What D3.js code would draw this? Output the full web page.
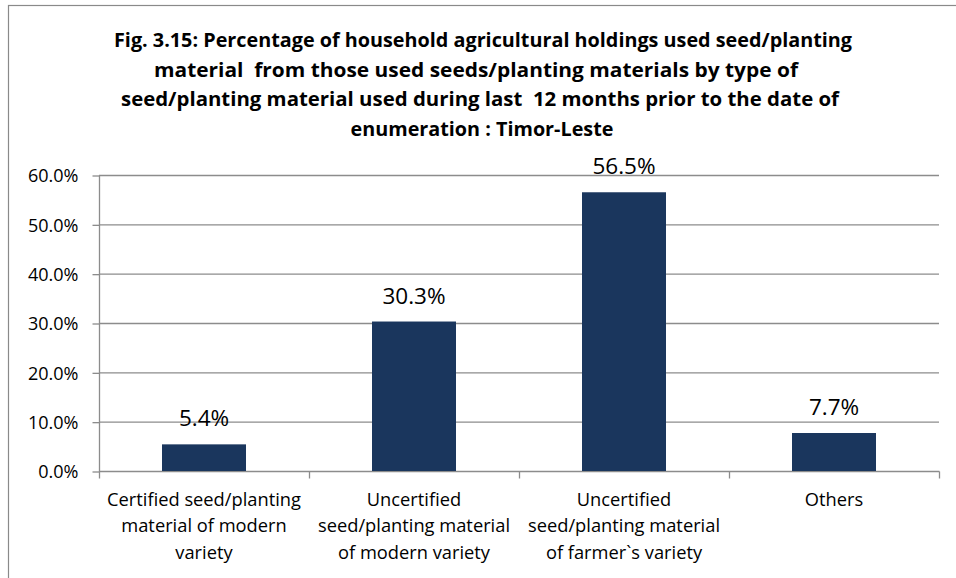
<!DOCTYPE html>
<html>
<head>
<meta charset="utf-8">
<script src="https://cdn.jsdelivr.net/npm/d3@7/dist/d3.min.js"></script>
<style>
  html, body { margin: 0; padding: 0; background: #fff; }
  svg text { font-family: "Open Sans", "Noto Sans", sans-serif; }
</style>
</head>
<body>
<svg id="chart" width="956" height="578"></svg>
<script>
// ---- data ----
const categories = [
  ["Certified seed/planting", "material of modern", "variety"],
  ["Uncertified", "seed/planting material", "of modern variety"],
  ["Uncertified", "seed/planting material", "of farmer`s variety"],
  ["Others"]
];
const values = [5.4, 30.3, 56.5, 7.7];
const yTicks = [0, 10, 20, 30, 40, 50, 60];
const titleLines = [
  "Fig. 3.15: Percentage of household agricultural holdings used seed/planting",
  "material  from those used seeds/planting materials by type of",
  "seed/planting material used during last  12 months prior to the date of",
  "enumeration : Timor-Leste"
];

// ---- layout ----
const svg = d3.select("#chart");
const plotLeft = 99, plotRight = 939, plotTop = 175, plotBottom = 471;
const gridColor = "#8c8c8c";
const barColor = "#1a365d";

// outer frame
svg.append("rect")
  .attr("x", 8.5).attr("y", 5.5)
  .attr("width", 1000).attr("height", 1000)
  .attr("fill", "none").attr("stroke", "#8a8a8a").attr("stroke-width", 1.2);

// title (font size fitted so the first line spans ~738px)
const titleCenters = [483, 476, 480, 482];
const titleWidths = [738, 644, 718, null];
const titleBaselines = [47, 76.7, 106.3, 136];
const titleG = svg.append("g");
const titleTexts = titleG.selectAll("text").data(titleLines).join("text")
  .attr("x", (d, i) => titleCenters[i])
  .attr("y", (d, i) => titleBaselines[i])
  .attr("text-anchor", "middle")
  .attr("font-weight", "bold")
  .attr("font-size", 18)
  .attr("fill", "#000")
  .style("white-space", "pre")
  .text(d => d);
const w0 = titleTexts.nodes()[0].getComputedTextLength();
const titleSize = 18 * 738 / w0;
titleTexts.attr("font-size", titleSize);
titleTexts.filter((d, i) => titleWidths[i] !== null)
  .attr("textLength", (d, i) => titleWidths[i])
  .attr("lengthAdjust", "spacingAndGlyphs");

// scales
const x = d3.scaleBand().domain(d3.range(values.length)).range([plotLeft, plotRight]).paddingInner(0.6).paddingOuter(0.3);
const xOuter = d3.scaleBand().domain(d3.range(values.length)).range([plotLeft, plotRight]);
const y = d3.scaleLinear().domain([0, 60]).range([plotBottom, plotTop]);

// gridlines
svg.append("g").selectAll("line").data(yTicks.filter(t => t > 0)).join("line")
  .attr("x1", plotLeft).attr("x2", plotRight)
  .attr("y1", d => y(d) + 0.5).attr("y2", d => y(d) + 0.5)
  .attr("stroke", gridColor).attr("stroke-width", 1.3);

// y axis
const yAxis = svg.append("g")
  .attr("transform", `translate(${plotLeft + 0.5},0.5)`)
  .call(d3.axisLeft(y).tickValues(yTicks).tickSize(7).tickPadding(14)
    .tickFormat(d => d3.format(".1f")(d) + "%"));
yAxis.select(".domain").attr("stroke", gridColor).attr("stroke-width", 1.3).attr("d", `M0,${plotTop}V${plotBottom}`);
yAxis.selectAll(".tick line").attr("stroke", gridColor).attr("stroke-width", 1.3);
yAxis.selectAll(".tick text").attr("font-size", 18).attr("fill", "#000")
  .attr("font-family", "'Open Sans', sans-serif").attr("dy", "0.36em");

// x axis
const xAxis = svg.append("g")
  .attr("transform", `translate(0,${plotBottom + 0.5})`);
xAxis.append("line").attr("x1", plotLeft).attr("x2", plotRight + 0.5).attr("y1", 0).attr("y2", 0)
  .attr("stroke", gridColor).attr("stroke-width", 1.3);
const boundaries = xOuter.domain().map(i => xOuter(i)).concat([plotRight]);
xAxis.selectAll("line.tk").data(boundaries).join("line").attr("class", "tk")
  .attr("x1", d => d + 0.5).attr("x2", d => d + 0.5).attr("y1", 0).attr("y2", 7)
  .attr("stroke", gridColor).attr("stroke-width", 1.3);

// bars
svg.append("g").selectAll("rect").data(values).join("rect")
  .attr("x", (d, i) => x(i))
  .attr("y", d => y(d))
  .attr("width", x.bandwidth())
  .attr("height", d => y(0) - y(d))
  .attr("fill", barColor);

// value labels
svg.append("g").selectAll("text").data(values).join("text")
  .attr("x", (d, i) => x(i) + x.bandwidth() / 2)
  .attr("y", d => y(d) - 18)
  .attr("text-anchor", "middle")
  .attr("font-size", 22.5)
  .attr("fill", "#000")
  .text(d => d3.format(".1f")(d) + "%");

// category labels
const catG = svg.append("g").selectAll("text").data(categories).join("text")
  .attr("x", (d, i) => xOuter(i) + xOuter.bandwidth() / 2)
  .attr("y", 506)
  .attr("text-anchor", "middle")
  .attr("font-size", 18.3)
  .attr("fill", "#000");
catG.selectAll("tspan").data(d => d).join("tspan")
  .attr("x", function () { return d3.select(this.parentNode).attr("x"); })
  .attr("dy", (d, j) => j === 0 ? 0 : 26.3)
  .text(d => d);
</script>
</body>
</html>
